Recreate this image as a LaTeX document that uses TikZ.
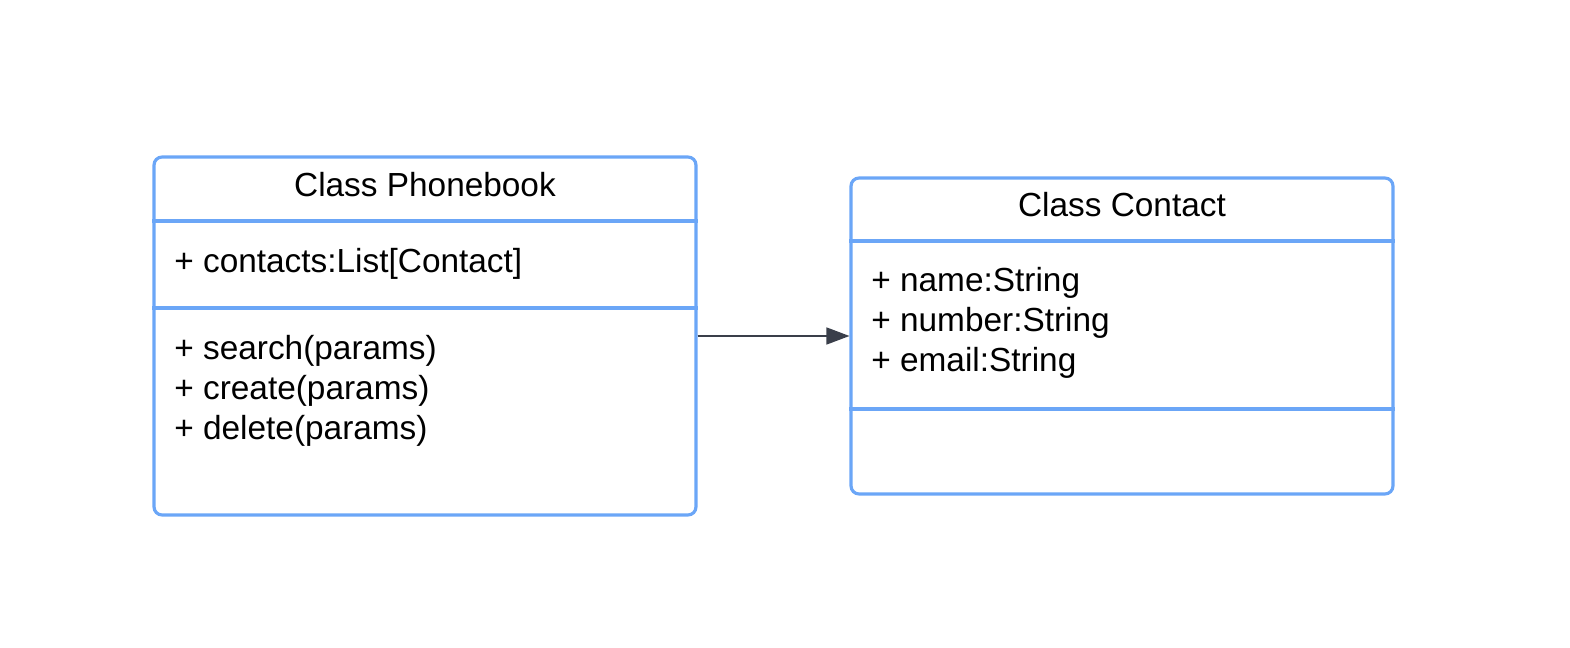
\documentclass[tikz,border=0pt]{standalone}
\usepackage{fontspec}
\setmainfont{Liberation Sans}
\usepackage{tikz}
\usetikzlibrary{positioning, arrows.meta, calc}
\definecolor{umlblue}{HTML}{6BA6F7}
\definecolor{arrowgray}{HTML}{3A3F4A}

\begin{document}
\begin{tikzpicture}[
    x=0.02cm, y=-0.02cm,
    classbox/.style={rectangle, draw=umlblue, line width=1.8pt, rounded corners=4.5pt,
                     fill=white, inner sep=0pt},
    divider/.style={draw=umlblue, line width=1.8pt},
    title/.style={anchor=base, inner sep=0pt, font=\fontsize{19}{22.7}\selectfont},
    member/.style={anchor=base west, inner sep=0pt, font=\fontsize{19}{22.7}\selectfont},
    arrow/.style={-{Triangle[length=0.46cm, width=0.34cm]}, draw=arrowgray, fill=arrowgray,
                  line width=0.8pt},
]
\useasboundingbox (0,0) rectangle (1570,648);

% === Class Phonebook ===
\node[classbox, minimum width=10.84cm, minimum height=7.16cm] (pb) at (425,336) {};
\draw[divider] (pb.west |- 0,221) -- (pb.east |- 0,221);
\draw[divider] (pb.west |- 0,308) -- (pb.east |- 0,308);
\node[title] (pbt) at (425,197) {Class Phonebook};
\node[member] (pba) at (174,273) {+ contacts:List[Contact]};
\node[member] (pbm1) at (174,360) {+ search(params)};
\node[member] (pbm2) at (174,400) {+ create(params)};
\node[member] (pbm3) at (174,440) {+ delete(params)};

% === Class Contact ===
\node[classbox, minimum width=10.84cm, minimum height=6.32cm] (ct) at (1122,336) {};
\draw[divider] (ct.west |- 0,241) -- (ct.east |- 0,241);
\draw[divider] (ct.west |- 0,409) -- (ct.east |- 0,409);
\node[title] (ctt) at (1122,217) {Class Contact};
\node[member] (cta1) at (871,292) {+ name:String};
\node[member] (cta2) at (871,332) {+ number:String};
\node[member] (cta3) at (871,372) {+ email:String};

\draw[arrow] (pb.east) -- (ct.west);

\end{tikzpicture}
\end{document}
